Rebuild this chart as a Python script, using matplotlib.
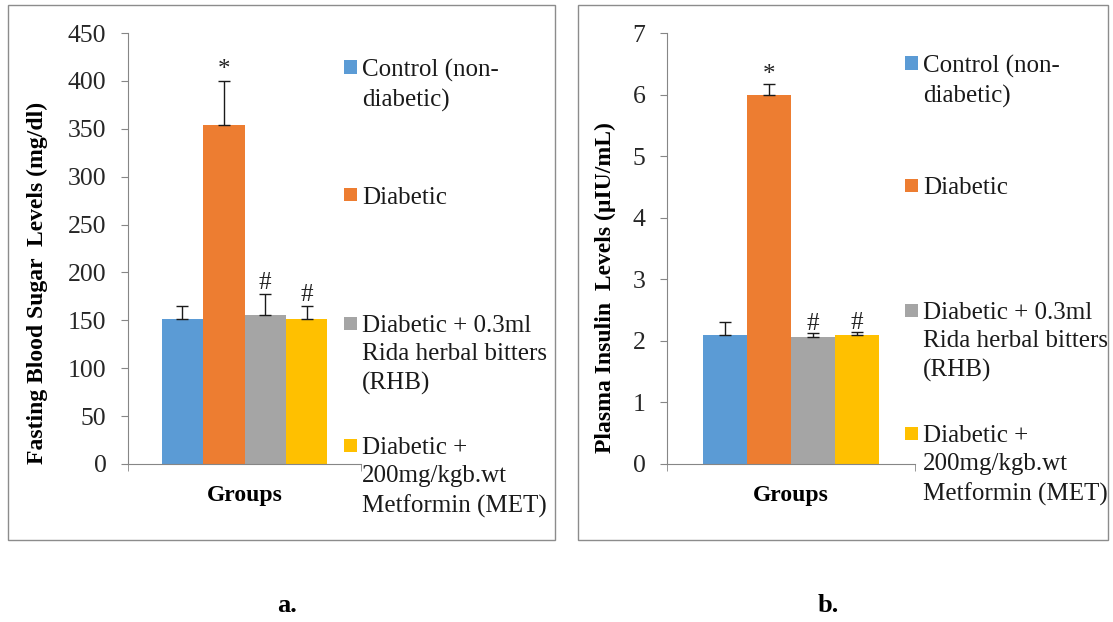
import matplotlib.pyplot as plt
from matplotlib.patches import Rectangle

plt.rcParams['font.family'] = ['Liberation Serif', 'DejaVu Serif']

# data
groups = ['Control (non-\ndiabetic)', 'Diabetic',
          'Diabetic + 0.3ml\nRida herbal bitters\n(RHB)',
          'Diabetic +\n200mg/kgb.wt\nMetformin (MET)']
colors = ['#5B9BD5', '#ED7D31', '#A5A5A5', '#FFC000']
marks = ['', '*', '#', '#']

fbs_mean = [151, 354, 156, 151]
fbs_err = [14, 46, 21, 14]
ins_mean = [2.10, 6.00, 2.07, 2.10]
ins_err = [0.20, 0.17, 0.05, 0.04]

fig = plt.figure(figsize=(11.13, 6.22), dpi=100)
W, H = 1113.0, 622.0

def px(x, y):
    return x / W, 1 - y / H

def panel(rect, mean, err, ymax, ystep, ylabel, ylab_x, ylab_y, leg_x, leg_y, mark_off):
    ax = fig.add_axes(rect)
    w = 0.178
    xs = [(i - 1.5) * w for i in range(4)]
    ax.bar(xs, mean, width=w, color=colors, yerr=[[0] * 4, err],
           error_kw=dict(ecolor='#1a1a1a', elinewidth=1.0, capsize=4.5, capthick=1.0))
    for x, m, e, t in zip(xs, mean, err, marks):
        if t:
            ax.text(x, m + e + mark_off, t, ha='center', va='bottom', fontsize=18, color='#222222')
    ax.set_xlim(-0.5, 0.5)
    ax.set_ylim(0, ymax)
    ax.set_yticks([ystep * k for k in range(int(ymax / ystep) + 1)])
    ax.set_xticks([0])
    ax.set_xticklabels(['Groups'], fontweight='bold', fontsize=17)
    ax.set_xticks([-0.5, 0.5], minor=True)
    ax.tick_params(axis='x', which='major', length=0, pad=15)
    ax.tick_params(axis='x', which='minor', length=5, color='#868686')
    ax.tick_params(axis='y', length=5, pad=10.5, color='#868686', labelsize=18.5, labelcolor='#262626')
    for s in ['top', 'right']:
        ax.spines[s].set_visible(False)
    for s in ['left', 'bottom']:
        ax.spines[s].set_color('#868686')
    ax.set_ylabel(ylabel, fontweight='bold', fontsize=17, va='center')
    ax.yaxis.set_label_coords(ylab_x, ylab_y)

    # legend, entries placed as in the original
    for lab, c, yy in zip(groups, colors, leg_y):
        x0, y0 = px(leg_x, yy + 6.5)
        fig.add_artist(Rectangle((x0, y0), 13 / W, 13 / H, transform=fig.transFigure,
                                 facecolor=c, edgecolor='none'))
        tx, ty = px(leg_x + 18, yy - 8)
        fig.text(tx, ty, lab, ha='left', va='top', fontsize=18, linespacing=1.38, color='#1a1a1a')
    return ax

# panel frames
for x0, x1 in [(8, 555), (578, 1108)]:
    fig.add_artist(Rectangle(px(x0, 540), (x1 - x0) / W, 535 / H, transform=fig.transFigure,
                             facecolor='none', edgecolor='#8c8c8c', linewidth=1.0))

l, b = px(128, 464)
panel([l, b, 233 / W, 431 / H], fbs_mean, fbs_err, 450, 50,
      'Fasting Blood Sugar  Levels (mg/dl)', -0.39, 0.42, 344, [67, 195, 323, 445], 0)

l, b = px(667, 464)
panel([l, b, 248 / W, 431 / H], ins_mean, ins_err, 7, 1,
      'Plasma Insulin  Levels (µIU/mL)', -0.25, 0.41, 905, [63, 185, 310, 433], -0.03)

fig.text(*px(287, 606), 'a.', ha='center', va='center', fontsize=19, fontweight='bold')
fig.text(*px(828, 606), 'b.', ha='center', va='center', fontsize=19, fontweight='bold')

fig.savefig('out.png', dpi=100)
